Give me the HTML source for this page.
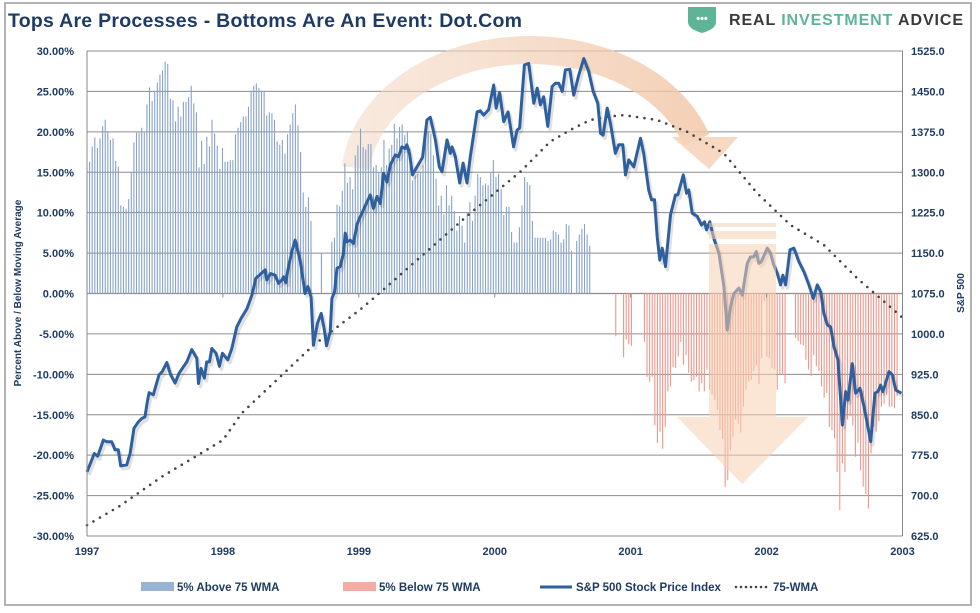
<!DOCTYPE html>
<html><head><meta charset="utf-8"><style>
html,body{margin:0;padding:0;background:#fff;}
svg{display:block;font-family:"Liberation Sans",Arial,sans-serif;}
</style></head><body>
<svg id="chart" width="980" height="613" viewBox="0 0 980 613">
<defs>
<linearGradient id="arcGrad" x1="340" y1="0" x2="720" y2="0" gradientUnits="userSpaceOnUse">
<stop offset="0" stop-color="#f3d9c6" stop-opacity="0.55"/>
<stop offset="1" stop-color="#f2c6a6" stop-opacity="0.85"/>
</linearGradient>
</defs>
<rect x="5" y="3" width="966" height="602" fill="#fff" stroke="#999" stroke-width="1.5"/>
<text x="8" y="27" font-size="19.5" font-weight="bold" fill="#1f3b63" textLength="514">Tops Are Processes - Bottoms Are An Event: Dot.Com</text>
<g>
<path d="M688,7 L716,7 L716,22 Q716,29 702,33 Q688,29 688,22 Z" fill="#5eb496"/>
<text x="702" y="22" font-size="11" fill="#fff" text-anchor="middle" font-weight="bold">•••</text>
<text x="729" y="25" font-size="16" font-weight="bold" textLength="234"><tspan fill="#3a3a3a">REAL </tspan><tspan fill="#5eb496">INVESTMENT</tspan><tspan fill="#3a3a3a"> ADVICE</tspan></text>
</g>
<g id="grid"></g>
<g id="deco1"></g>
<g id="bars"></g>
<g id="lines"></g>
<g id="deco2"></g>
<g id="axes"></g>
<text transform="translate(21,293) rotate(-90)" text-anchor="middle" font-size="10" font-weight="bold" fill="#1f3b63">Percent Above / Below Moving Average</text>
<text transform="translate(964,293) rotate(-90)" text-anchor="middle" font-size="10" font-weight="bold" fill="#1f3b63">S&amp;P 500</text>
<g>
<rect x="141" y="582" width="33" height="9" fill="#98b3d4"/>
<text x="177" y="591" font-size="11.5" font-weight="bold" fill="#1f3b63">5% Above 75 WMA</text>
<rect x="343" y="582" width="33" height="9" fill="#f4aba3"/>
<text x="379" y="591" font-size="11.5" font-weight="bold" fill="#1f3b63">5% Below 75 WMA</text>
<line x1="540" y1="587" x2="572" y2="587" stroke="#2e5f9e" stroke-width="3"/>
<text x="576" y="591" font-size="11.5" font-weight="bold" fill="#1f3b63">S&amp;P 500 Stock Price Index</text>
<line x1="736" y1="587" x2="768" y2="587" stroke="#444" stroke-width="2.6" stroke-linecap="round" stroke-dasharray="0 5"/>
<text x="773" y="591" font-size="11.5" font-weight="bold" fill="#1f3b63">75-WMA</text>
</g>
</svg>
<script>
// ---- data ----
const yearTicks = [1997,1998,1999,2000,2001,2002,2003];
const pctTicks = [30,25,20,15,10,5,0,-5,-10,-15,-20,-25,-30];
const priceTicks = [1525,1450,1375,1300,1225,1150,1075,1000,925,850,775,700,625];
// weekly % above 75 WMA (from week 0 of 1997)
const aboveBars = [15.6,16.3,18.2,19.3,18.0,19.2,20.7,21.5,20.1,19.0,19.2,16.4,15.7,10.9,10.7,10.5,11.7,15.1,18.7,19.9,19.9,20.5,19.9,23.4,25.5,23.8,24.9,26.1,27.1,27.6,28.7,28.4,24.1,23.9,21.3,23.1,21.9,23.7,23.7,24.3,25.7,23.5,22.4,15.6,18.9,16.0,19.4,18.2,21.5,19.8,18.3,15.4,18.0,16.3,16.3,16.5,16.5,19.7,20.5,21.2,21.9,21.9,23.1,25.1,25.7,26.0,25.4,25.1,25.1,22.0,22.4,22.3,21.5,18.8,18.4,19.0,17.3,19.7,20.9,22.3,23.4,20.8,17.5,12.5,10.7,11.9,9.0,0,0,0,5.0,0,0,0,6.4,6.9,11.0,10.8,12.7,16.1,13.7,14.4,12.9,17.1,18.3,20.4,18.1,17.8,18.5,
18.5,15.6,15.9,15.0,15.6,19.0,15.9,17.9,18.4,21.0,19.2,20.6,20.9,19.6,20.1,17.9,14.0,14.6,14.8,15.0,15.9,19.2,20.0,19.8,17.1,14.2,10.9,12.1,9.8,13.4,10.9,12.1,10.2,7.8,9.6,8.4,6.3,10.0,11.3,9.0,12.1,14.8,14.4,13.4,13.6,13.4,15.0,16.5,14.4,14.8,12.9,9.7,10.7,10.7,7.6,6.3,6.3,8.2,10.9,14.4,13.8,13.4,9.0,6.9,6.9,6.9,6.9,6.9,6.5,6.7,7.8,7.6,7.3,6.3,6.7,8.6,8.4,5.3,0,6.5,7.3,8.0,8.6,7.3,5.9];
const belowStartWeek = 203;
const belowBars = [-5.3,0,0,-7.9,-5.7,-6.3,-6.5,0,0,0,0,-6.0,-10.3,-10.9,-10.3,-16.3,-18.5,-17.1,-19.2,-16.5,-12.1,-11.5,-9.1,-9.2,-7.8,-6.0,-8.8,-7.6,-9.8,-10.9,-10.7,-10.3,-12.1,-11.1,-12.1,-9.4,-11.9,-12.5,-13.2,-14.4,-16.9,-18.0,-23.9,-23.1,-19.4,-17.7,-15.6,-16.1,-17.2,-14.0,-11.9,-10.9,-10.7,-9.6,-8.9,-11.2,-8.0,-0.9,-7.8,-8.0,-9.2,-9.4,-11.9,-10.0,-10.0,-11.1,0,0,0,-5.5,-5.9,-6.3,-6.4,-8.2,-9.4,-10.2,-7.6,-9.0,-9.6,-11.5,-12.9,-12.3,-16.5,-16.9,-17.9,-22.1,-26.8,-21.0,-22.1,-15.6,-15.2,-16.3,-20.2,-18.5,-21.9,-23.9,-24.8,-26.6,-19.8,-16.5,-17.1,-15.8,-14.0,-13.6,-12.5,-14.0,-14.0,-14.2,-12.7];
const spDates = [1997.000,1997.054,1997.079,1997.120,1997.145,1997.182,1997.206,1997.230,1997.248,1997.292,1997.317,1997.346,1997.378,1997.403,1997.427,1997.444,1997.457,1997.488,1997.530,1997.554,1997.587,1997.616,1997.648,1997.677,1997.709,1997.734,1997.771,1997.808,1997.820,1997.839,1997.864,1997.881,1997.901,1997.918,1997.950,1997.974,1997.996,1998.036,1998.065,1998.102,1998.134,1998.176,1998.213,1998.242,1998.281,1998.311,1998.323,1998.350,1998.384,1998.409,1998.434,1998.446,1998.463,1998.478,1998.507,1998.532,1998.568,1998.605,1998.625,1998.649,1998.666,1998.696,1998.723,1998.747,1998.762,1998.789,1998.802,1998.821,1998.839,1998.863,1998.887,1998.900,1998.912,1998.937,1998.961,1998.986,1998.998,
1999.084,1999.108,1999.133,1999.158,1999.182,1999.207,1999.231,1999.268,1999.292,1999.317,1999.342,1999.354,1999.373,1999.395,1999.428,1999.469,1999.501,1999.526,1999.563,1999.592,1999.612,1999.649,1999.673,1999.686,1999.710,1999.742,1999.767,1999.796,1999.820,1999.870,1999.894,1999.918,1999.955,1999.992,2000.010,2000.036,2000.066,2000.098,2000.139,2000.164,2000.183,2000.218,2000.250,2000.287,2000.312,2000.336,2000.360,2000.390,2000.422,2000.446,2000.471,2000.496,2000.520,2000.552,2000.581,2000.618,2000.655,2000.691,
2000.724,2000.758,2000.778,2000.797,2000.827,2000.851,2000.888,2000.912,2000.942,2000.962,2000.986,2001.023,2001.072,2001.096,2001.133,2001.153,2001.175,2001.195,2001.214,2001.232,2001.256,2001.293,2001.330,2001.347,2001.387,2001.411,2001.428,2001.453,2001.490,2001.521,2001.544,2001.558,2001.582,2001.612,2001.649,2001.686,2001.711,2001.735,2001.759,2001.796,2001.821,2001.838,2001.858,2001.882,2001.906,2001.924,2001.943,2001.961,2002.005,2002.029,2002.049,2002.079,2002.103,2002.120,2002.140,2002.172,2002.201,2002.238,2002.275,2002.311,2002.344,2002.373,2002.398,2002.422,2002.447,2002.471,2002.496,2002.525,2002.558,2002.582,2002.599,2002.631,2002.655,2002.687,2002.717,2002.766,2002.797,2002.820,2002.839,2002.856,2002.871,2002.901,2002.926,2002.950,2002.992];
const spPrices = [744,778,773,803,800,800,785,785,755,757,778,825,837,843,846,874,891,887,924,930,947,924,909,927,939,948,971,955,908,936,918,948,948,973,964,940,964,952,973,1013,1029,1046,1072,1103,1112,1119,1100,1112,1109,1094,1100,1106,1095,1119,1153,1174,1137,1075,1088,1068,979,1020,1038,1007,978,1004,1066,1078,1122,1125,1150,1187,1171,1174,1168,1202,1211,
1258,1233,1255,1242,1298,1282,1313,1332,1329,1347,1344,1351,1335,1295,1310,1328,1397,1402,1360,1310,1301,1360,1335,1347,1329,1280,1317,1280,1329,1412,1414,1406,1416,1462,1419,1448,1394,1412,1347,1378,1382,1499,1502,1428,1456,1425,1440,1385,1459,1465,1465,1450,1490,1491,1443,1480,1511,1487,
1450,1428,1372,1369,1419,1391,1335,1351,1351,1295,1323,1310,1363,1335,1267,1249,1249,1180,1137,1159,1125,1221,1258,1258,1295,1261,1267,1224,1218,1202,1208,1193,1208,1177,1150,1088,1007,1051,1075,1085,1072,1100,1131,1143,1143,1153,1131,1134,1159,1150,1131,1112,1091,1109,1091,1156,1159,1134,1115,1091,1066,1091,1078,1038,1017,1013,976,952,831,893,877,945,890,899,865,800,890,893,905,893,905,930,924,896,890];
const wmaDates = [1997.000,1997.243,1997.550,1998.000,1998.139,1998.666,1999.023,1999.121,1999.820,2000.189,2000.409,2000.581,2000.704,2000.827,2000.949,2001.195,2001.416,2001.686,2001.932,2002.177,2002.422,2002.668,2002.992];
const wmaPrices = [645,681,735,803,853,979,1048,1069,1224,1301,1357,1382,1397,1403,1406,1397,1375,1335,1261,1202,1165,1103,1032];

// ---- scales ----
const X0=87, X1=902.5, Y0=51, Y1=536;
const xS = d => X0 + (d-1997)/6*(X1-X0);
const yP = v => Y0 + (30-v)/60*(Y1-Y0);
const yR = p => Y0 + (1525-p)/900*(Y1-Y0);
const NS="http://www.w3.org/2000/svg";
function mk(tag, attrs, parent){const e=document.createElementNS(NS,tag);for(const k in attrs)e.setAttribute(k,attrs[k]);parent.appendChild(e);return e;}
const grid=document.getElementById('grid'), axes=document.getElementById('axes'), bars=document.getElementById('bars'), lines=document.getElementById('lines');

pctTicks.forEach(v=>{
  const y=yP(v);
  const g=mk('line',{x1:X0,x2:X1,y1:y,y2:y,stroke:'#8c8c8c','stroke-width':v===0?1.3:1},grid);
  
  
  const t=mk('text',{x:74,y:y+4,'text-anchor':'end','font-size':11,'font-weight':'bold',fill:'#1f3b63'},axes);
  t.textContent=v.toFixed(2)+'%';
  
  
});
priceTicks.forEach(p=>{
  const t=mk('text',{x:911,y:yR(p)+4,'font-size':11,'font-weight':'bold',fill:'#1f3b63'},axes);
  t.textContent=p.toFixed(1);
  
  
});
const la=mk('line',{x1:X0,x2:X0,y1:Y0,y2:Y1,stroke:'#888'},axes);


const ra=mk('line',{x1:X1,x2:X1,y1:Y0,y2:Y1,stroke:'#888'},axes);


yearTicks.forEach(yr=>{
  const x=xS(yr);
  const tk=mk('line',{x1:x,x2:x,y1:yP(0),y2:yP(0)+4,stroke:'#888'},axes);
  
  
  const t=mk('text',{x:x,y:555,'text-anchor':'middle','font-size':11,'font-weight':'bold',fill:'#1f3b63'},axes);
  t.textContent=yr;
  
  
});

// bars
const zeroY=yP(0);
aboveBars.forEach((v,i)=>{
  if(!v) return;
  const x=xS(1997+i/52.18);
  const b=mk('line',{x1:x,x2:x,y1:zeroY,y2:yP(v),stroke:'#87a3c9','stroke-width':1.1},bars);
  
  
});
belowBars.forEach((v,i)=>{
  if(!v) return;
  const x=xS(1997+(belowStartWeek+i)/52.18);
  const b=mk('line',{x1:x,x2:x,y1:zeroY,y2:yP(v),stroke:'#f0958a','stroke-width':1.1},bars);
  
  
});

// decorative arc (behind data)
const d1=document.getElementById('deco1');
const cx=530, cy=180, rx=175, ry=130;
const a0=Math.asin((cy-168)/ry), a1=Math.asin((cy-140)/ry);
const arc=mk('path',{d:`M${cx-rx*Math.cos(a0)},${cy-ry*Math.sin(a0)} A${rx},${ry} 0 0 1 ${cx+rx*Math.cos(a1)},${cy-ry*Math.sin(a1)}`,fill:'none',stroke:'url(#arcGrad)','stroke-width':28},d1);


const ah=mk('polygon',{points:'672,137 738,137 709,169',fill:'#f6d2b8',opacity:0.85},d1);



// lines
const wpts=wmaDates.map((d,i)=>xS(d).toFixed(1)+','+yR(wmaPrices[i]).toFixed(1)).join(' ');
const wl=mk('polyline',{points:wpts,fill:'none',stroke:'#444','stroke-width':2.6,'stroke-linecap':'round','stroke-dasharray':'0 7.5'},lines);


const spts=spDates.map((d,i)=>xS(d).toFixed(1)+','+yR(spPrices[i]).toFixed(1)).join(' ');
const sh=mk('polyline',{points:spts,fill:'none',stroke:'#000','stroke-width':3.5,opacity:0.12,transform:'translate(2,3)','stroke-linejoin':'round'},lines);


const sl=mk('polyline',{points:spts,fill:'none',stroke:'#2e5f9e','stroke-width':3,'stroke-linejoin':'round'},lines);



// straight down arrow (over data, translucent)
const d2=document.getElementById('deco2');
const s1=mk('rect',{x:709,y:223,width:67,height:4,fill:'#f8cfb2',opacity:0.55},d2);


const s2=mk('rect',{x:709,y:231,width:67,height:8,fill:'#f8cfb2',opacity:0.55},d2);


const da=mk('polygon',{points:'709,244 776,244 776,417 808,417 742,484 677,417 709,417',fill:'#f8cfb2',opacity:0.55},d2);


</script>
</body></html>
